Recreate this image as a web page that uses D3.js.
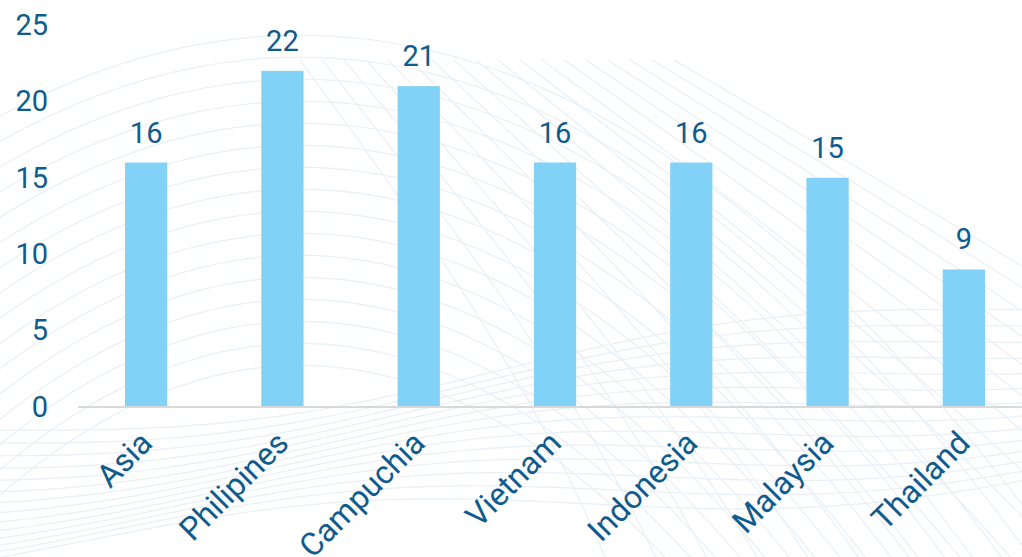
<!DOCTYPE html>
<html><head><meta charset="utf-8">
<script src="https://cdn.jsdelivr.net/npm/d3@7"></script>
<style>html,body{margin:0;padding:0;background:#fff;}svg{display:block;}</style>
</head><body>
<svg id="chart" width="1022" height="557"></svg>
<script>
const categories = ["Asia","Philipines","Campuchia","Vietnam","Indonesia","Malaysia","Thailand"];
const values = [16,22,21,16,16,15,9];
const yTicks = [0,5,10,15,20,25];

const W = 1022, H = 557;
const svg = d3.select("#chart");
const textColor = "#0f5b8c";
const font = "Roboto, 'Noto Sans', sans-serif";

// decorative background waves
const bg = svg.append("g").attr("fill","none").attr("stroke","#d3e2ef").attr("stroke-width",1.2).attr("opacity",0.5);
const line = d3.line().curve(d3.curveBasis);
for (let i = 0; i < 16; i++) {
  const pts = d3.range(0, 41).map(k => {
    const x = -20 + k * 27;
    const y = 35 + i * 22 + 0.0009 * (x - 300) * (x - 300) * (1 + i * 0.04);
    return [x, y];
  });
  bg.append("path").attr("d", line(pts));
}
for (let i = 0; i < 18; i++) {
  const pts = d3.range(0, 31).map(k => {
    const t = k / 30;
    const x = 300 + i * 22 + t * (260 + i * 30) + 60 * Math.sin(t * 2);
    const y = 60 + t * 520;
    return [x, y];
  });
  bg.append("path").attr("d", line(pts));
}
for (let i = 0; i < 14; i++) {
  const pts = d3.range(0, 41).map(k => {
    const x = -20 + k * 27;
    const y = 430 + i * 9 - 0.12 * x * (1 - i * 0.03) + 20 * Math.sin(x / 160 + i * 0.2);
    return [x, y];
  });
  bg.append("path").attr("d", line(pts));
}

const x = d3.scaleBand().domain(categories).range([78, 1032]).padding(0);
const y = d3.scaleLinear().domain([0, 25]).range([407, 25]);
const barW = x.bandwidth() * 0.31;

// y axis labels
const yAxis = d3.axisLeft(y).tickValues(yTicks).tickSize(0).tickPadding(0);
const gy = svg.append("g").attr("transform", "translate(48,0)").call(yAxis);
gy.select(".domain").remove();
gy.selectAll("text").attr("fill", textColor).attr("font-family", font).attr("font-size", 29);

// bars
svg.append("g").selectAll("rect").data(values).join("rect")
  .attr("x", (d, i) => x(categories[i]) + x.bandwidth() / 2 - barW / 2)
  .attr("width", barW)
  .attr("y", d => y(d))
  .attr("height", d => y(0) - y(d))
  .attr("fill", "#81d2f6");

// value labels
svg.append("g").selectAll("text").data(values).join("text")
  .attr("x", (d, i) => x(categories[i]) + x.bandwidth() / 2)
  .attr("y", d => y(d) - 20)
  .attr("text-anchor", "middle")
  .attr("fill", textColor).attr("font-family", font).attr("font-size", 29)
  .text(d => d);

// x axis
const xAxis = d3.axisBottom(x).tickSize(0).tickPadding(0);
const gx = svg.append("g").attr("transform", "translate(0,407)").call(xAxis);
gx.select(".domain").attr("d", "M78,0H1022").attr("stroke", "#d9d9d9").attr("stroke-width", 2);
gx.selectAll("text")
  .attr("fill", textColor).attr("font-family", font).attr("font-size", 32)
  .attr("text-anchor", "end")
  .attr("dy", 0)
  .attr("transform", "translate(8,38) rotate(-45)");
</script>
</body></html>
